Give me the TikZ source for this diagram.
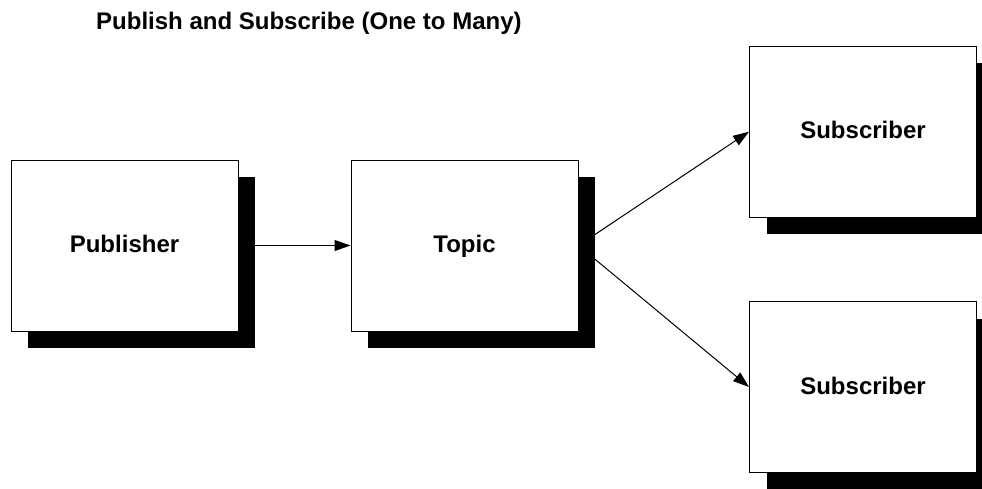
\documentclass[tikz,border=0pt]{standalone}
\usepackage{fontspec}
\setmainfont{Liberation Sans}
\usetikzlibrary{shadows,arrows.meta}
\begin{document}
\begin{tikzpicture}[x=1pt,y=-1pt,
    box/.style={draw=black, line width=1pt, fill=white, minimum width=227pt, minimum height=171pt,
        font=\fontsize{24pt}{28pt}\selectfont\bfseries, inner sep=0pt, text height=17.2pt, text depth=3pt,
        drop shadow={shadow xshift=17pt, shadow yshift=-17pt, opacity=1, fill=black}},
    link/.style={line width=1pt, -{Triangle[length=16pt,width=11pt]}}]
    % page
    \useasboundingbox (0,0) rectangle (982,488);
    % title
    \node [anchor=base west, inner sep=0pt, font=\fontsize{24pt}{28pt}\selectfont\bfseries] (title) at (96,29) {Publish and Subscribe (One to Many)};
    % boxes
    \node [box] (pub) at (124.5,245.5) {Publisher};
    \node [box] (topic) at (464.5,245.5) {Topic};
    \node [box] (subTop) at (863,131.7) {Subscriber};
    \node [box] (subBottom) at (863,387) {Subscriber};
    % arrows
    \draw [link] (pub.east) -- (topic.west);
    \draw [link] (topic.east) -- (subTop.west);
    \draw [link] (topic.east) -- (subBottom.west);
\end{tikzpicture}
\end{document}
